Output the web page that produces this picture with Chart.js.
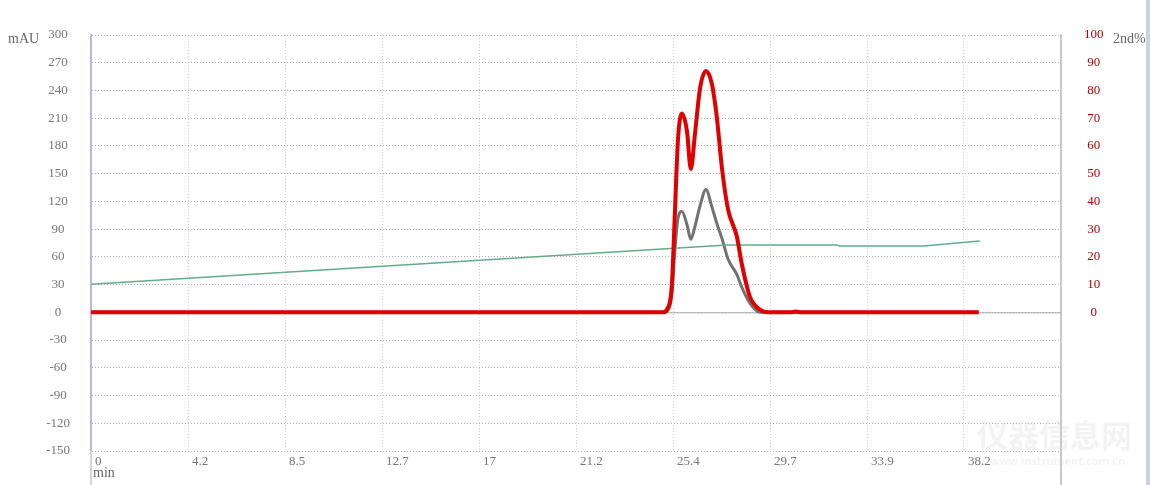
<!DOCTYPE html>
<html>
<head>
<meta charset="utf-8">
<script src="https://cdn.jsdelivr.net/npm/chart.js@4/dist/chart.umd.min.js"></script>
<style>
  html, body { margin: 0; padding: 0; background: #fff; }
</style>
</head>
<body>
<canvas id="myChart" width="1150" height="485"></canvas>
<script>
// retention time (min) and detector signals (mAU)
let times = [0, 25.0, 25.17, 25.39, 25.52, 25.66, 25.83, 26.05, 26.22, 26.4, 26.62, 26.88, 27.14, 27.36, 27.58, 27.84, 28.23, 28.45, 28.8, 29.24, 29.6, 30.6, 30.8, 31.0, 38.8];
let signalRed = [0, 0, 3, 30, 106, 188, 215, 196, 155, 193, 242, 261, 247, 210, 156, 112, 82, 52, 17, 3, 0, 0, 1, 0, 0];
let signalGray = [0, 0, 1, 20, 66, 102, 109, 95, 79, 93, 115, 133, 114, 96, 80, 58, 41, 27, 10, 0, 0, 0, 0, 0, 0];

// gradient (2nd %)
let gradientTimes = [0, 27.8, 32.6, 32.7, 36.4, 38.85];
let gradientPct = [10.1, 24.3, 24.3, 23.9, 23.9, 25.7];

// x axis ticks
let xTicks = [0, 4.24, 8.48, 12.72, 16.96, 21.2, 25.44, 29.68, 33.92, 38.16, 42.4];
let xLabels = ['0', '4.2', '8.5', '12.7', '17', '21.2', '25.4', '29.7', '33.9', '38.2', ''];

const serif = '"Liberation Serif", "DejaVu Serif", serif';

const extras = {
    id: 'extras',
    beforeDatasetsDraw(chart) {
        const {ctx, chartArea, scales} = chart;
        const y0 = scales.y.getPixelForValue(0);
        ctx.save();
        ctx.strokeStyle = '#a8a8a8';
        ctx.lineWidth = 1;
        ctx.beginPath();
        ctx.moveTo(chartArea.left, y0 + 0.5);
        ctx.lineTo(chartArea.right, y0 + 0.5);
        ctx.stroke();
        ctx.restore();
    },
    afterDraw(chart) {
        const {ctx, chartArea} = chart;
        ctx.save();
        // axis lines running down past the plot
        ctx.fillStyle = '#d4d4d4';
        ctx.fillRect(chartArea.left - 1, chartArea.bottom, 2, 485 - chartArea.bottom);
        ctx.fillStyle = '#c8c8c8';
        ctx.fillRect(chartArea.right - 1, chartArea.bottom, 2, 485 - chartArea.bottom);
        ctx.fillStyle = '#c9d3e6';
        ctx.fillRect(1146, 0, 4, 485);

        // axis titles
        ctx.fillStyle = '#666';
        ctx.font = '14px ' + serif;
        ctx.textBaseline = 'alphabetic';
        ctx.textAlign = 'left';
        ctx.fillText('mAU', 8, 43);
        ctx.fillText('2nd%', 1113, 43);
        ctx.fillText('min', 93, 477);

        // faint watermark
        ctx.fillStyle = 'rgba(200,200,200,0.22)';
        ctx.font = 'bold 31px "Noto Sans CJK SC"';
        ctx.fillText('仪器信息网', 977, 447);
        ctx.font = 'bold 11px "Noto Sans"';
        ctx.fillText('www.instrument.com.cn', 990, 465);
        ctx.restore();
    }
};

let ctx = document.getElementById('myChart').getContext('2d');

let chart = new Chart(ctx, {
    type: 'line',
    data: {
        datasets: [
            {
                label: 'signal 1',
                data: times.map((t, i) => ({x: t, y: signalRed[i]})),
                borderColor: '#e00000',
                borderWidth: 4,
                pointRadius: 0,
                cubicInterpolationMode: 'monotone',
                yAxisID: 'y'
            },
            {
                label: 'gradient',
                data: gradientTimes.map((t, i) => ({x: t, y: gradientPct[i]})),
                borderColor: '#62ad88',
                borderWidth: 1.5,
                pointRadius: 0,
                tension: 0,
                yAxisID: 'y2'
            },
            {
                label: 'signal 2',
                data: times.map((t, i) => ({x: t, y: signalGray[i]})),
                borderColor: '#727272',
                borderWidth: 3,
                pointRadius: 0,
                cubicInterpolationMode: 'monotone',
                yAxisID: 'y'
            }
        ]
    },
    options: {
        responsive: false,
        animation: false,
        devicePixelRatio: 1,
        layout: { padding: { top: 35 } },
        plugins: {
            legend: { display: false },
            tooltip: { enabled: false }
        },
        scales: {
            x: {
                type: 'linear',
                min: 0,
                max: 42.4,
                afterBuildTicks: (scale) => { scale.ticks = xTicks.map(v => ({value: v})); },
                afterFit: (scale) => { scale.height = 34; },
                grid: { color: '#cfcfcf', drawTicks: false },
                border: { display: false, dash: [1, 2] },
                ticks: {
                    autoSkip: false,
                    maxRotation: 0,
                    align: 'start',
                    labelOffset: 4,
                    padding: 3,
                    color: '#777',
                    font: { family: serif, size: 13 },
                    callback: (value, index) => xLabels[index]
                }
            },
            y: {
                position: 'left',
                min: -150,
                max: 300,
                afterFit: (scale) => { scale.width = 91; },
                grid: { color: '#b4b4b4', drawTicks: false },
                border: { color: '#b6b6de', width: 2, dash: [1, 2] },
                ticks: {
                    stepSize: 30,
                    maxTicksLimit: 20,
                    crossAlign: 'center',
                    padding: 21,
                    color: '#777',
                    font: { family: serif, size: 13 }
                }
            },
            y2: {
                position: 'right',
                min: -50,
                max: 100,
                afterFit: (scale) => { scale.width = 89; },
                grid: { display: false, drawTicks: false },
                border: { color: '#c8c8c8', width: 2 },
                ticks: {
                    stepSize: 10,
                    maxTicksLimit: 20,
                    crossAlign: 'center',
                    padding: 23,
                    color: '#b00000',
                    font: { family: serif, size: 13 },
                    callback: (value) => value >= 0 ? value : ''
                }
            }
        }
    },
    plugins: [extras]
});
</script>
</body>
</html>
